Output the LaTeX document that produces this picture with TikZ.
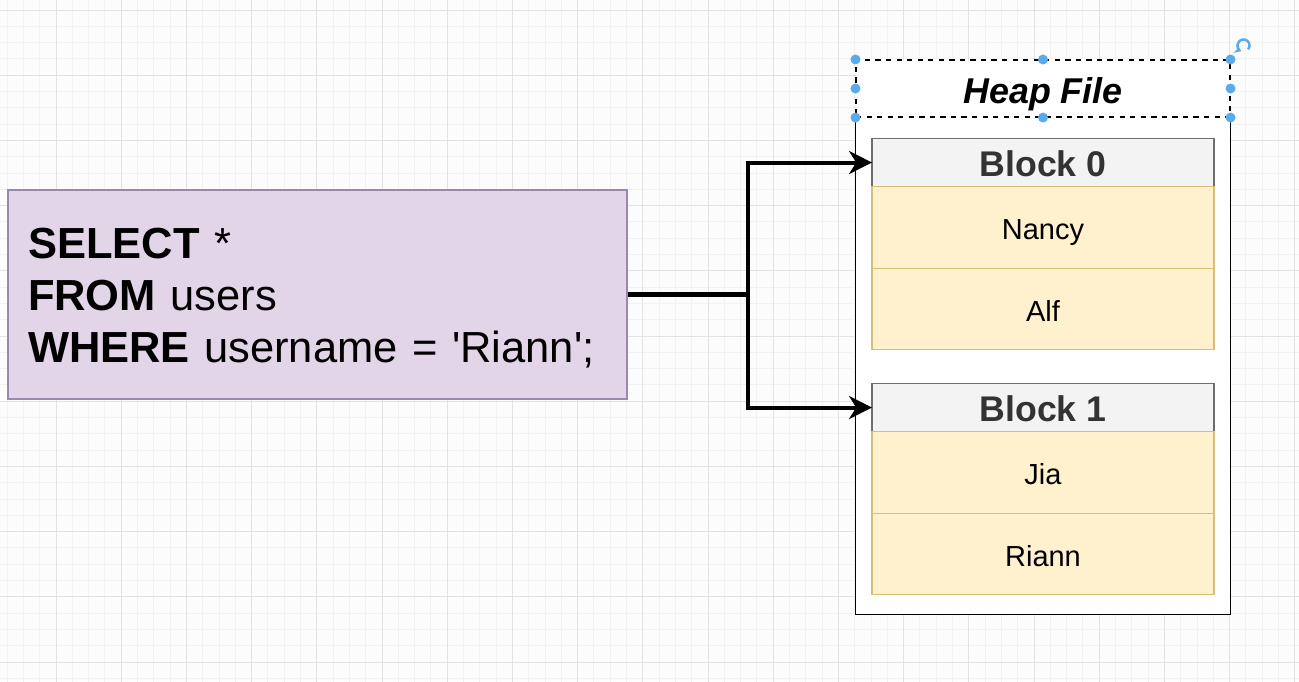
\documentclass[tikz,border=0pt]{standalone}
\usepackage{fontspec}
\setmainfont{Liberation Sans}
\usepackage{tikz}
\usetikzlibrary{positioning,arrows.meta}
\definecolor{sqlfill}{HTML}{E1D5E7}
\definecolor{sqldraw}{HTML}{9A88AE}
\definecolor{rowfill}{HTML}{FFF0CE}
\definecolor{rowdraw}{HTML}{D9BD72}
\definecolor{headfill}{HTML}{F3F3F3}
\definecolor{headdraw}{HTML}{6E6E6E}
\definecolor{headtext}{HTML}{333333}
\definecolor{handleblue}{HTML}{5AABEB}
\definecolor{gridminor}{HTML}{F2F2F2}
\definecolor{gridmajor}{HTML}{E2E2E2}
\definecolor{paper}{HTML}{FCFCFC}
\tikzstyle{query} = [rectangle, draw=sqldraw, fill=sqlfill, align=left, text width=11.58cm,
inner xsep=0.4cm, minimum width=12.38cm, minimum height=4.18cm, font=\fontsize{24.75}{29.8}\selectfont]
\tikzstyle{container} = [rectangle, fill=white, minimum width=7.48cm, minimum height=11.08cm]
\tikzstyle{heaptitle} = [rectangle, draw, dashed, fill=white, minimum width=7.48cm, minimum height=1.14cm,
inner ysep=0pt, text height=20pt, text depth=3pt, font=\fontsize{20.4}{24}\selectfont\bfseries\itshape]
\tikzstyle{blockhead} = [rectangle, draw=headdraw, fill=headfill, text=headtext, minimum width=6.84cm,
minimum height=0.96cm, outer sep=0pt, inner ysep=0pt, text height=19.4pt, text depth=3pt,
font=\fontsize{20.3}{24}\selectfont\bfseries]
\tikzstyle{record} = [rectangle, draw=rowdraw, fill=rowfill, minimum width=6.84cm, minimum height=1.63cm,
outer sep=0pt, inner ysep=0pt, text height=17.4pt, text depth=3pt, font=\fontsize{16.5}{20}\selectfont]
\tikzstyle{line} = [draw, line width=2.3pt, -{Stealth[length=13pt, width=13pt, inset=4pt]}]
\tikzstyle{handle} = [circle, fill=handleblue, inner sep=0pt, minimum size=0.2cm]

\begin{document}
\begin{tikzpicture}[line width=0.6pt]
    % paper and grid
    \useasboundingbox (0,0) rectangle (25.98,-13.62);
    \begin{scope}
    \clip (0,0) rectangle (25.98,-13.62);
    \fill[paper] (0,0) rectangle (25.98,-13.62);
    \draw[gridminor, line width=0.5pt, step=0.326cm, shift={(1.12,-0.2)}] (-1.5,-14) grid (25.5,1);
    \draw[gridmajor, line width=0.5pt, step=1.304cm, shift={(1.12,-0.2)}] (-1.5,-14) grid (25.5,1);
    \end{scope}

    % Nodes
    \node [query] (sql) at (6.35,-5.89) {\rule{0pt}{21.5pt}\textbf{SELECT} *\\ \textbf{FROM} users\\
      \textbf{WHERE} username = \textquotesingle Riann\textquotesingle;};

    \node [container] (heap) at (20.86,-6.74) {};
    \node [heaptitle, below=0pt of heap.north] (heaptitle) {Heap File};
    \draw (heaptitle.south west) -- (heap.south west) -- (heap.south east) -- (heaptitle.south east);

    \node [blockhead, below=0.42cm of heaptitle] (block0) {Block 0};
    \node [record, below=0pt of block0] (nancy) {Nancy};
    \node [record, below=0pt of nancy] (alf) {Alf};
    \node [blockhead, below=0.68cm of alf] (block1) {Block 1};
    \node [record, below=0pt of block1] (jia) {Jia};
    \node [record, below=0pt of jia] (riann) {Riann};

    % arrows
    \coordinate (fork) at (14.96,-5.89);
    \draw[line] (sql.east) -- (fork) |- (block0.west);
    \draw[line] (fork) |- (block1.west);

    % selection handles
    \foreach \a in {north west, north, north east, west, east, south west, south, south east}
      \node [handle] at (heaptitle.\a) {};
    \coordinate (rot) at ([xshift=0.26cm, yshift=0.28cm]heaptitle.north east);
    \draw[handleblue, line width=1.4pt, -{Stealth[length=4pt, width=5pt]}]
      ([shift={(-40:0.12)}]rot) arc[start angle=-40, end angle=250, radius=0.12];
\end{tikzpicture}
\end{document}
